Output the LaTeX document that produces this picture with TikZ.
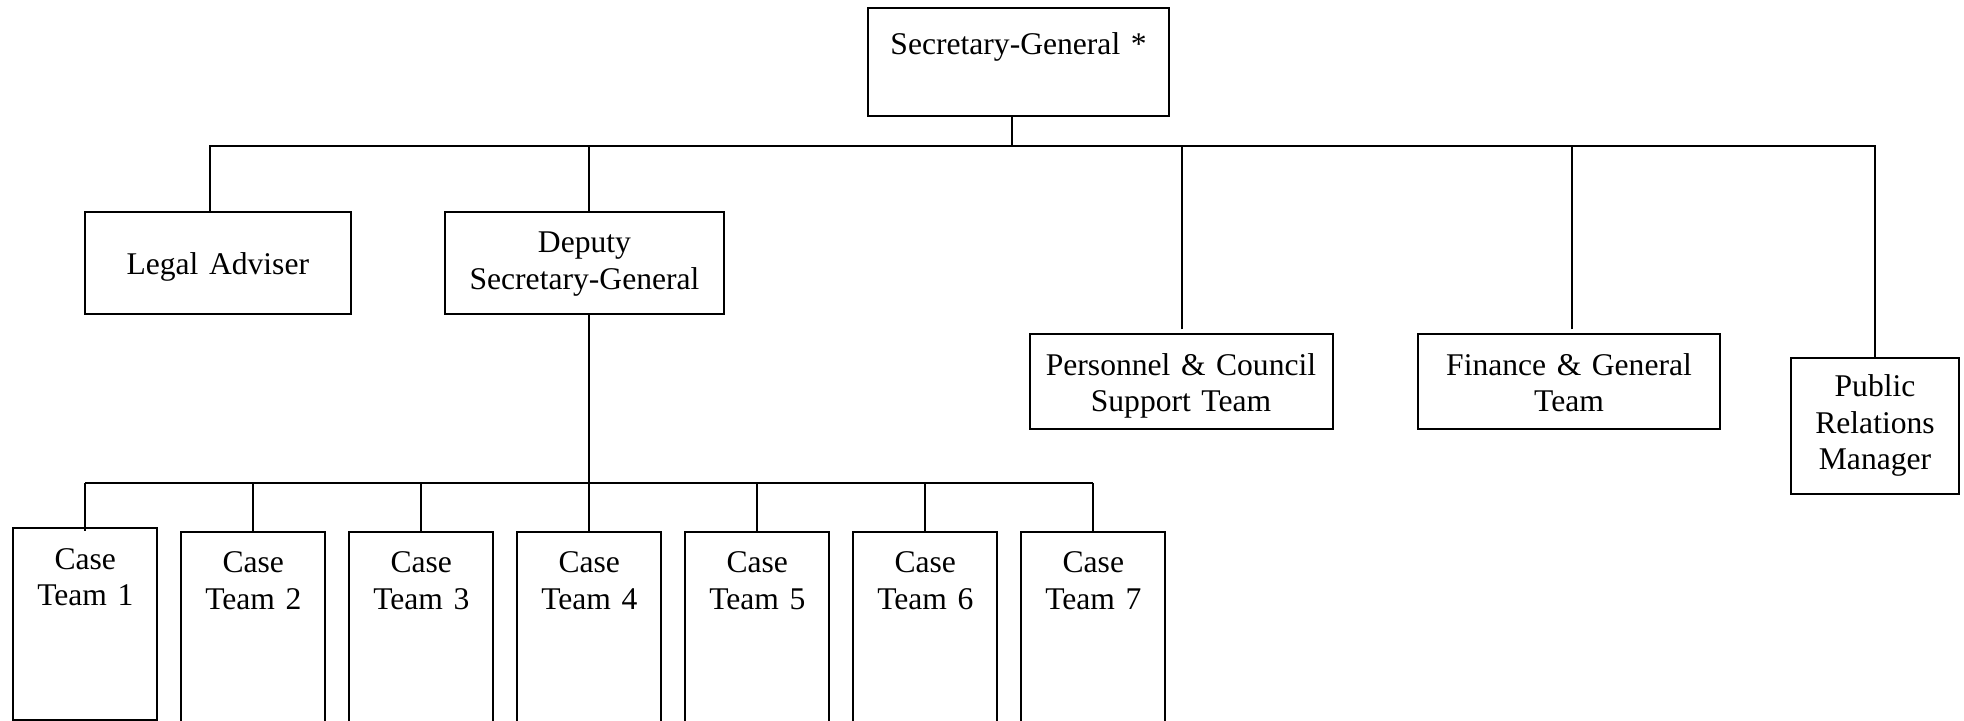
\documentclass[tikz,border=0pt]{standalone}
\usepackage{fontspec}
\setmainfont{Liberation Serif}
\usepackage{tikz}
\tikzstyle{post} = [rectangle, draw, line width=1pt, inner sep=0pt, align=center, anchor=north,
    font=\fontsize{15.8pt}{18.25pt}\selectfont]
\tikzstyle{caseteam} = [post, text width=72pt, text height=20.4pt, text depth=75.5pt]
\tikzstyle{link} = [line width=1pt]

\begin{document}
\begin{tikzpicture}[x=0.5pt, y=-0.5pt]
	\useasboundingbox (0,0) rectangle (1964,721);

	% Place nodes
	\node [post, text width=150.5pt, text height=23.35pt, text depth=30.65pt] at (1018.5,7.3) (sg) {Secretary-General *};

	\node [post, text width=133.2pt, text height=31.3pt, text depth=19.7pt] at (217.8,210.7) (legal) {Legal Adviser};
	\node [post, text width=139.75pt, text height=20.5pt, text depth=30.5pt] at (584.5,210.7) (deputy) {Deputy\\Secretary-General};
	\node [post, text width=151.5pt, text height=20.5pt, text depth=26.7pt] at (1181,333.3) (personnel) {Personnel \& Council\\Support Team};
	\node [post, text width=151pt, text height=20.5pt, text depth=26.7pt] at (1569,333.3) (finance) {Finance \& General\\Team};
	\node [post, text width=84pt, text height=19.5pt, text depth=48.65pt] at (1875,356.7) (pr) {Public\\Relations\\Manager};

	\node [caseteam, text height=20.5pt] at (85.3,527.3) (case1) {Case\\Team 1};
	\foreach \i in {2,...,7}
		\node [caseteam] at ({85.3+168*(\i-1)},531) (case\i) {Case\\Team \i};

	\coordinate (sgbus) at (1011.7,146.5);
	\coordinate (casebus) at (589,483.3);

	% Connectors
	\draw[link] (sg.south -| sgbus) -- (sgbus);
	\draw[link] ([xshift=-3.7pt]legal.north) |- (pr.north |- sgbus) -- (pr.north);
	\draw[link] ([xshift=2.2pt]deputy.north) -- ([xshift=2.2pt]deputy.north |- sgbus);
	\draw[link] ([xshift=0.7pt,yshift=2pt]personnel.north) -- ([xshift=0.7pt]personnel.north |- sgbus);
	\draw[link] ([xshift=1.3pt,yshift=2pt]finance.north) -- ([xshift=1.3pt]finance.north |- sgbus);

	\draw[link] (deputy.south -| casebus) -- (casebus);
	\draw[link] (case1.north |- casebus) -- (case7.north |- casebus);
	\draw[link] (case1.north |- casebus) -- ([yshift=-1.85pt]case1.north);
	\foreach \i in {2,...,7}
		\draw[link] (case\i.north |- casebus) -- (case\i.north);
\end{tikzpicture}
\end{document}
